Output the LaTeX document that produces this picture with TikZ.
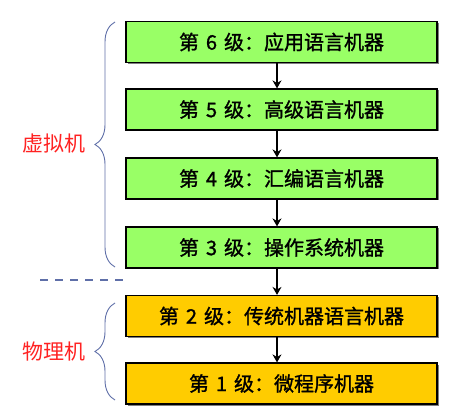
\documentclass[tikz,border=0pt]{standalone}
\usepackage{fontspec}
\setmainfont{Noto Sans CJK SC}
\newfontfamily\boxfont{Noto Sans CJK SC}[FakeBold=1.2]
\newcommand\gap{\hspace{0.35em}}
\usetikzlibrary{arrows.meta,decorations.pathreplacing,shadows}
\definecolor{green1}{HTML}{99FF66}
\definecolor{gold1}{HTML}{FFCC00}
\definecolor{brace1}{HTML}{5F6FA8}
\definecolor{red1}{HTML}{FF2222}

\begin{document}
\begin{tikzpicture}[x=1pt,y=1pt,
  machine/.style={draw=black,line width=1.2pt,minimum width=311pt,minimum height=41pt,
    inner sep=0pt,font=\boxfont\fontsize{20}{24}\selectfont,
    drop shadow={shadow xshift=1.5pt,shadow yshift=-1.5pt,fill=black,opacity=0.5}},
  levelarrow/.style={-{Stealth[length=8pt,width=9pt]},line width=2.6pt},
  grp/.style={brace1,line width=0.9pt,decorate,decoration={brace,amplitude=20pt}},
  grplabel/.style={red1,font=\fontsize{21}{25}\selectfont}]
  \useasboundingbox (0,0) rectangle (454,417);
  % virtual machine levels
  \node[machine,fill=green1] (l6) at (281.5,375)   {第\gap 6\gap 级：应用语言机器};
  \node[machine,fill=green1] (l5) at (281.5,307.5) {第\gap 5\gap 级：高级语言机器};
  \node[machine,fill=green1] (l4) at (281.5,238.5) {第\gap 4\gap 级：汇编语言机器};
  \node[machine,fill=green1] (l3) at (281.5,169.5) {第\gap 3\gap 级：操作系统机器};
  % physical machine levels
  \node[machine,fill=gold1] (l2) at (281.5,101)  {第\gap 2\gap 级：传统机器语言机器};
  \node[machine,fill=gold1] (l1) at (281.5,33.5) {第\gap 1\gap 级：微程序机器};
  % arrows sit a little left of the box centres
  \foreach \a/\b in {l6/l5,l5/l4,l4/l3,l3/l2,l2/l1}{
    \draw[levelarrow] ([xshift=-4.5pt]\a.south) -- ([xshift=-4.5pt]\b.north);}
  % braces and group labels
  \draw[grp] (115,150) -- (115,395);
  \draw[grp] (115,17) -- (115,114);
  \node[grplabel] (vm) at (54,273) {虚拟机};
  \node[grplabel] (pm) at (54,65)  {物理机};
  % split line
  \draw[brace1,line width=2pt,dash pattern=on 8pt off 7pt] (40,137) -- (127,137);
\end{tikzpicture}
\end{document}
